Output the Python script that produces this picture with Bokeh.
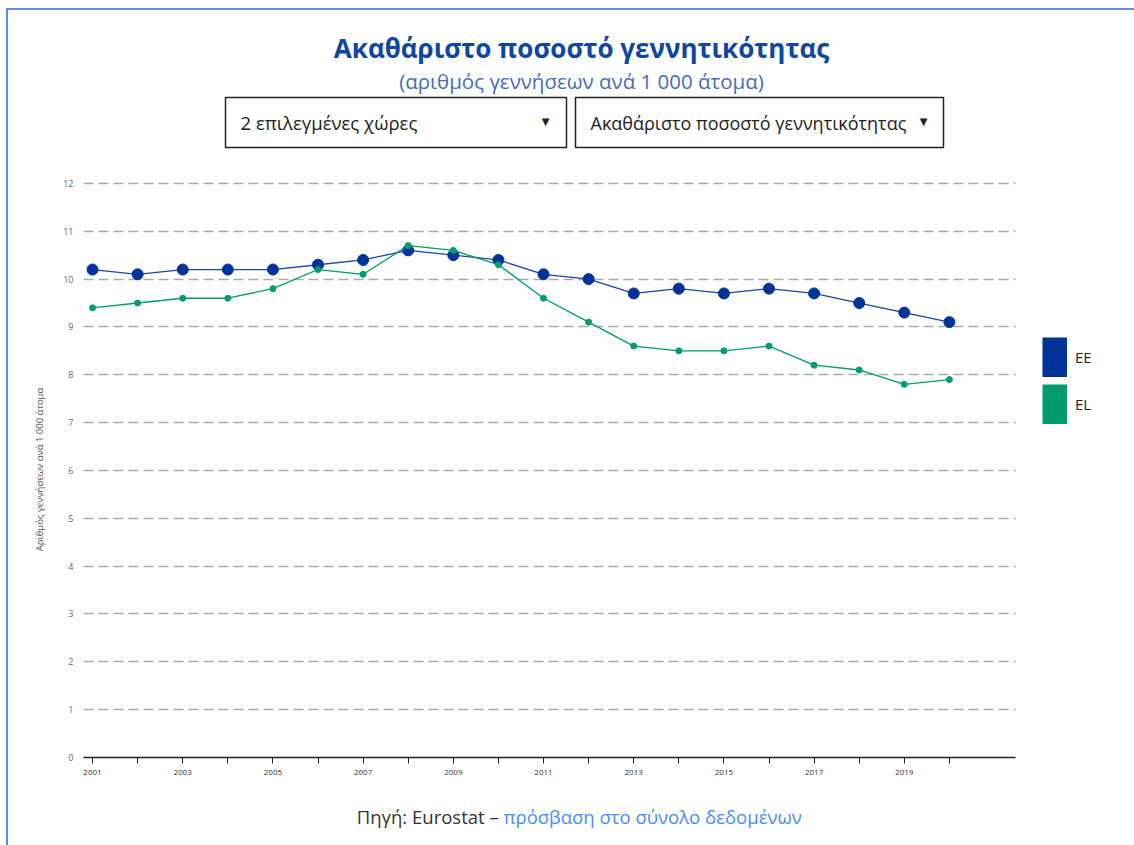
from bokeh.plotting import figure
from bokeh.layouts import column
from bokeh.models import Range1d, FixedTicker, Label, Legend, LegendItem, Grid
from bokeh.embed import file_html
from bokeh.resources import INLINE

# ---------------- data ----------------
years = list(range(2001, 2021))
ee_values = [10.2, 10.1, 10.2, 10.2, 10.2, 10.3, 10.4, 10.6, 10.5, 10.4,
             10.1, 10.0, 9.7, 9.8, 9.7, 9.8, 9.7, 9.5, 9.3, 9.1]
el_values = [9.4, 9.5, 9.6, 9.6, 9.8, 10.2, 10.1, 10.7, 10.6, 10.3,
             9.6, 9.1, 8.6, 8.5, 8.5, 8.6, 8.2, 8.1, 7.8, 7.9]
series_names = ["EE", "EL"]
y_ticks = list(range(0, 13))
x_ticks = years
x_labelled = [y for y in years if y % 2 == 1]

title_text = "Ακαθάριστο ποσοστό γεννητικότητας"
subtitle_text = "(αριθμός γεννήσεων ανά 1 000 άτομα)"
y_axis_text = "Αριθμός γεννήσεων ανά 1 000 άτομα"
dropdown1_text = "2 επιλεγμένες χώρες"
dropdown2_text = "Ακαθάριστο ποσοστό γεννητικότητας"
source_text = "Πηγή: Eurostat – "
link_text = "πρόσβαση στο σύνολο δεδομένων"

EE_COLOR = "#003399"
EE_LINE_COLOR = "#1F44A8"
EL_COLOR = "#009B6E"
BORDER_COLOR = "#5B8FE0"
FONT = "Open Sans"
W = 1126            # content width (page x 8 .. 1134)
BL = 75             # shared left border so all frames align
FX0, FX1 = 8 + BL, 8 + W   # frame extent in page pixels (83 .. 1134)
X_AXIS_SPAN = (2000.8, 2021.47)   # visible extent of axis line and grid lines
NAN = float("nan")


def blank_fig(height, y_top, y_bottom):
    f = figure(width=W, height=height, output_backend="svg", toolbar_location=None,
               x_range=Range1d(FX0, FX1), y_range=Range1d(y_bottom, y_top),
               x_axis_type=None, y_axis_type=None,
               min_border_left=BL, min_border_right=0, min_border_top=0,
               min_border_bottom=0)
    f.outline_line_color = None
    f.xgrid.visible = False
    f.ygrid.visible = False
    f.background_fill_color = "white"
    f.border_fill_color = "white"
    return f


# ---------------- header ----------------
head = blank_fig(160, 10, 170)
head.add_layout(Label(x=581, y=47, text=title_text, text_align="center",
                      text_baseline="middle", text_font=FONT, text_font_size="26px",
                      text_font_style="bold", text_color="#0D47A1"))
head.add_layout(Label(x=581, y=80, text=subtitle_text, text_align="center",
                      text_baseline="middle", text_font=FONT, text_font_size="20.5px",
                      text_color="#4A6BB8"))
head.quad(left=[225, 575], right=[566, 943], top=[97, 97], bottom=[147, 147],
          fill_color="white", line_color="#222222", line_width=1.5)
head.add_layout(Label(x=240, y=122, text=dropdown1_text, text_align="left",
                      text_baseline="middle", text_font=FONT, text_font_size="18.5px",
                      text_color="#222222"))
head.add_layout(Label(x=590, y=122, text=dropdown2_text, text_align="left",
                      text_baseline="middle", text_font=FONT, text_font_size="18px",
                      text_color="#222222"))
for tx in (545, 923):
    head.add_layout(Label(x=tx, y=121, text="▼", text_align="center",
                          text_baseline="middle", text_font="DejaVu Sans",
                          text_font_size="10px", text_color="#222222"))

# ---------------- main chart ----------------
# frame reaches the right edge so the legend sits inside it; 45.1 px per year
x_end = 2001 + (FX1 - 92) / 45.1
p = figure(width=W, height=625, output_backend="svg", toolbar_location=None,
           x_range=Range1d(X_AXIS_SPAN[0], x_end), y_range=Range1d(0, 12.04),
           min_border_left=BL, min_border_right=0, min_border_top=11,
           min_border_bottom=38)
p.outline_line_color = None
p.background_fill_color = "white"
p.border_fill_color = "white"

p.xaxis.bounds = X_AXIS_SPAN
p.xaxis.ticker = FixedTicker(ticks=x_ticks)
p.xaxis.major_label_overrides = {y: (str(y) if y in x_labelled else "") for y in x_ticks}
p.xaxis.axis_line_color = "#222222"
p.xaxis.axis_line_width = 1.5
p.xaxis.major_tick_line_color = "#222222"
p.xaxis.major_tick_out = 6
p.xaxis.major_tick_in = 0
p.xaxis.minor_tick_line_color = None
p.xaxis.major_label_text_font = FONT
p.xaxis.major_label_text_font_size = "8px"
p.xaxis.major_label_text_color = "#333333"
p.xaxis.major_label_standoff = 6

p.yaxis.ticker = FixedTicker(ticks=y_ticks)
p.yaxis.axis_line_color = None
p.yaxis.major_tick_line_color = None
p.yaxis.major_tick_out = 0
p.yaxis.major_tick_in = 0
p.yaxis.minor_tick_line_color = None
p.yaxis.minor_tick_out = 0
p.yaxis.major_label_text_font = FONT
p.yaxis.major_label_text_font_size = "9px"
p.yaxis.major_label_text_color = "#666666"
p.yaxis.major_label_standoff = 10
p.yaxis.axis_label = y_axis_text
p.yaxis.axis_label_text_font = FONT
p.yaxis.axis_label_text_font_size = "9.5px"
p.yaxis.axis_label_text_font_style = "normal"
p.yaxis.axis_label_text_color = "#555555"
p.yaxis.axis_label_standoff = 14

p.xgrid.grid_line_color = None
p.ygrid.grid_line_color = "#AAAAAA"
p.ygrid.grid_line_dash = "10 5"
p.ygrid.grid_line_width = 1.3
if "cross_bounds" in Grid.properties():
    p.ygrid.cross_bounds = X_AXIS_SPAN

p.line(years, ee_values, line_color=EE_LINE_COLOR, line_width=1.3)
p.scatter(years, ee_values, size=11, fill_color=EE_COLOR, line_color=EE_COLOR)
p.line(years, el_values, line_color=EL_COLOR, line_width=1.3)
p.scatter(years, el_values, size=6, fill_color=EL_COLOR, line_color=EL_COLOR)

# legend swatches: thick line renderers holding a single missing value
sw_ee = p.line([NAN], [NAN], line_color=EE_COLOR, line_width=40, line_cap="butt")
sw_el = p.line([NAN], [NAN], line_color=EL_COLOR, line_width=40, line_cap="butt")
legend = Legend(items=[LegendItem(label=series_names[0], renderers=[sw_ee]),
                       LegendItem(label=series_names[1], renderers=[sw_el])],
                location=(1042 - FX0, 757 - 424),
                glyph_width=25, glyph_height=40, spacing=7,
                label_standoff=8, padding=0, margin=0, border_line_color=None,
                background_fill_alpha=0, label_text_font=FONT,
                label_text_font_size="15px", label_text_color="#222222")
p.add_layout(legend, "center")

# ---------------- footer ----------------
foot = blank_fig(50, 795, 845)
foot.add_layout(Label(x=503, y=816, text=source_text, text_align="right",
                      text_baseline="middle", text_font=FONT, text_font_size="18.5px",
                      text_color="#333333"))
foot.add_layout(Label(x=503, y=816, text=link_text, text_align="left",
                      text_baseline="middle", text_font=FONT, text_font_size="18.5px",
                      text_color="#4A8CFF"))

layout = column(head, p, foot, spacing=0,
                styles={"border-left": "2px solid " + BORDER_COLOR,
                        "border-top": "2px solid " + BORDER_COLOR,
                        "margin-left": "6px", "margin-top": "8px"})

open("out.html", "w").write(file_html(layout, INLINE))
